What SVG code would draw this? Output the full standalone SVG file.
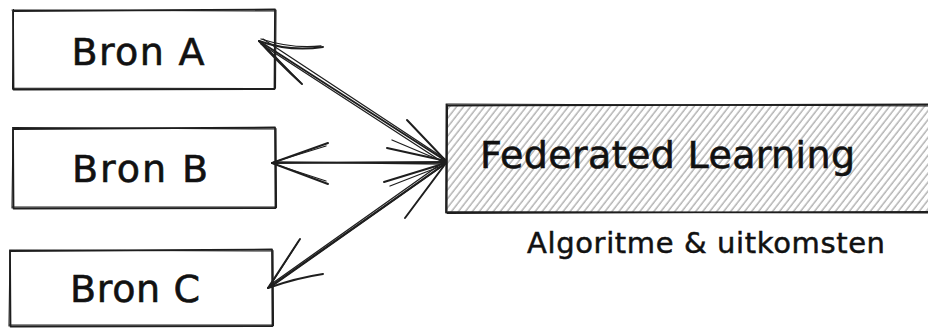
<svg xmlns="http://www.w3.org/2000/svg" width="928" height="328" viewBox="0 0 928 328">
  <defs>
    <pattern id="hatch" width="5.5" height="5.5" patternUnits="userSpaceOnUse" patternTransform="rotate(38)">
      <line x1="2" y1="-1" x2="2" y2="7" stroke="#b4b4b4" stroke-width="1.5"/>
    </pattern>
    <style>
      .edge { fill: none; stroke: #1e1e1e; stroke-width: 1.8; stroke-linecap: round; stroke-linejoin: round; }
      .edge2 { fill: none; stroke: #1e1e1e; stroke-width: 1.1; stroke-linecap: round; stroke-linejoin: round; }
      .wire { fill: none; stroke: #1e1e1e; stroke-width: 2; stroke-linecap: round; stroke-linejoin: round; }
      .wire2 { fill: none; stroke: #1e1e1e; stroke-width: 1.3; stroke-linecap: round; }
      .label { font-family: "DejaVu Sans", "Liberation Sans", sans-serif; fill: #111111; stroke: #111111; stroke-width: 0.6; }
      .big { font-size: 38px; }
      .small { font-size: 29px; stroke-width: 0.5; }
    </style>
  </defs>

  <rect width="928" height="328" fill="#ffffff"/>

  <!-- source boxes -->
  <g id="bron-a">
    <path class="edge" d="M13 11 L275 9.5 L274.5 89 L13.5 89.5 Z"/>
    <path class="edge2" d="M12 10 L274 11 M276 10 L275.5 88 M275 88.5 L12.5 88 M12.5 89 L13.5 9.5"/>
    <text class="label big" x="138" y="65" text-anchor="middle" textLength="133">Bron A</text>
  </g>

  <g id="bron-b">
    <path class="edge" d="M13 129 L275 127.5 L275.5 208 L13.5 208.5 Z"/>
    <path class="edge2" d="M12.5 127.5 L274 129 M276 128.5 L276.5 207.5 M275 207 L12.5 207 M12 208 L13 128"/>
    <text class="label big" x="140" y="182" text-anchor="middle" textLength="136">Bron B</text>
  </g>

  <g id="bron-c">
    <path class="edge" d="M10 251 L272 249.5 L272.5 326 L10.5 326.5 Z"/>
    <path class="edge2" d="M9.5 250 L271 251 M273 250.5 L273.5 325.5 M272 325 L9.5 325 M9 326 L10 250.5"/>
    <text class="label big" x="135" y="302" text-anchor="middle" textLength="130">Bron C</text>
  </g>

  <!-- federated learning box, runs past the right edge -->
  <g id="federated-learning">
    <rect x="446" y="105" width="500" height="107" fill="url(#hatch)"/>
    <path class="edge" d="M447 105.5 L940 104.5 M446.5 105 L446 212.5 M446 212 L940 212.5"/>
    <path class="edge2" d="M446 104 L940 106 M447.5 104.5 L447 211 M447 213.5 L940 211.5"/>
    <text class="label big" x="480" y="168" textLength="375">Federated Learning</text>
  </g>

  <g id="caption">
    <text class="label small" x="527" y="253" textLength="358">Algoritme &amp; uitkomsten</text>
  </g>

  <!-- connectors between the sources and the federated box -->
  <g id="connectors">
    <!-- to Bron A -->
    <path class="wire" d="M446 161 L259 41"/>
    <path class="wire2" d="M444 163 L261 44 M445 159 L263 39"/>
    <path class="wire" d="M259 41 Q290 52 323 47"/>
    <path class="wire" d="M259 41 Q278 62 302 84"/>
    <path class="wire2" d="M262 43 L300 82 M261 39 Q292 49 321 46"/>
    <path class="wire" d="M446 161 L407 120"/>
    <path class="wire" d="M446 161 L387 148"/>
    <path class="wire2" d="M444 162 L392 140"/>

    <!-- to Bron B -->
    <path class="wire" d="M446 162 L272 163"/>
    <path class="wire2" d="M445 164 L274 162"/>
    <path class="wire" d="M272 163 L328 143"/>
    <path class="wire" d="M272 163 L328 184"/>
    <path class="wire2" d="M274 162 L326 146 M274 164 L326 181"/>

    <!-- to Bron C -->
    <path class="wire" d="M446 163 L268 288"/>
    <path class="wire2" d="M444 165 L271 287 M445 161 L270 285"/>
    <path class="wire" d="M268 288 L300 239"/>
    <path class="wire" d="M268 288 Q296 278 323 274"/>
    <path class="wire2" d="M270 286 L298 242"/>
    <path class="wire" d="M446 163 L384 182"/>
    <path class="wire" d="M446 163 L405 218"/>
    <path class="wire2" d="M444 165 L390 186"/>
  </g>
</svg>
